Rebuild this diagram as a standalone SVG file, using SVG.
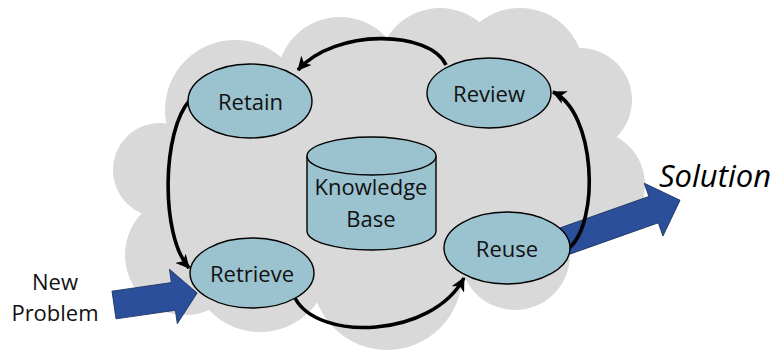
<svg xmlns="http://www.w3.org/2000/svg" width="776" height="350" viewBox="0 0 776 350">
  <style>
    .cloud { fill: #d9d9d9; }
    .node { fill: #9bc2cf; stroke: #000; stroke-width: 1.4; }
    .lbl { font-family: "Open Sans", "Liberation Sans", sans-serif; font-size: 22px; fill: #111; text-anchor: middle; }
    .out { font-size: 31px; font-style: italic; fill: #000; }
    .flow { fill: none; stroke: #000; stroke-width: 3.6; }
    .big { fill: #2b4f9a; stroke: #1a2f5c; stroke-width: 0.8; }
  </style>
  <defs>
    <marker id="head" markerUnits="userSpaceOnUse" markerWidth="16" markerHeight="14" refX="13" refY="7" orient="auto">
      <path d="M0,0 L14,7 L0,14 L4,7 Z" fill="#000"/>
    </marker>
  </defs>

  <!-- background cloud -->
  <g id="cloud" class="cloud">
    <polygon points="235,110 340,80 440,70 520,72 580,100 590,185 515,255 387,275 260,262 185,255 160,170"/>
    <circle cx="235" cy="110" r="70"/>
    <circle cx="340" cy="80" r="63"/>
    <circle cx="440" cy="70" r="62"/>
    <circle cx="520" cy="72" r="64"/>
    <circle cx="580" cy="100" r="52"/>
    <circle cx="590" cy="185" r="55"/>
    <circle cx="515" cy="255" r="55"/>
    <circle cx="387" cy="275" r="75"/>
    <circle cx="260" cy="262" r="70"/>
    <circle cx="185" cy="255" r="60"/>
    <circle cx="160" cy="170" r="47"/>
    <ellipse cx="380" cy="180" rx="200" ry="110"/>
  </g>

  <!-- input and output arrows -->
  <g id="new-problem-arrow">
    <polygon class="big" transform="translate(114,305) rotate(-8.2)" points="0,-14 60,-14 60,-27.5 84,0 60,27.5 60,14 0,14"/>
  </g>
  <g id="solution-arrow">
    <polygon class="big" transform="translate(565,241) rotate(-19.5)" points="0,-14 94,-14 94,-28 122,0 94,28 94,14 0,14"/>
  </g>

  <!-- cycle connectors -->
  <g id="connectors">
    <path class="flow" d="M446,65 C430,30 335,28 298,70" marker-end="url(#head)"/>
    <path class="flow" d="M190,100 C162,130 160,235 189,268" marker-end="url(#head)"/>
    <path class="flow" d="M295,298 C318,342 432,338 464,278" marker-end="url(#head)"/>
    <path class="flow" d="M569,248 C600,222 596,112 553,92" marker-end="url(#head)"/>
  </g>

  <g id="retain">
    <ellipse class="node" cx="250" cy="101" rx="62" ry="37"/>
    <text class="lbl" x="250.5" y="110">Retain</text>
  </g>
  <g id="review">
    <ellipse class="node" cx="489" cy="93" rx="62" ry="35"/>
    <text class="lbl" x="489" y="102">Review</text>
  </g>
  <g id="retrieve">
    <ellipse class="node" cx="252" cy="273" rx="62" ry="35"/>
    <text class="lbl" x="252" y="282">Retrieve</text>
  </g>
  <g id="reuse">
    <ellipse class="node" cx="507" cy="248" rx="63" ry="36"/>
    <text class="lbl" x="507" y="257">Reuse</text>
  </g>
  <g id="knowledge-base">
    <path class="node" d="M307,156 L307,231 A64.5,19 0 0 0 436,231 L436,156"/>
    <ellipse class="node" cx="371.5" cy="156" rx="64.5" ry="19"/>
    <text class="lbl" x="371" y="195">Knowledge</text>
    <text class="lbl" x="371" y="227">Base</text>
  </g>

  <g id="new-problem">
    <text class="lbl" x="55" y="290">New</text>
    <text class="lbl" x="55" y="321">Problem</text>
  </g>
  <g id="solution">
    <text class="lbl out" x="715" y="187">Solution</text>
  </g>
</svg>
